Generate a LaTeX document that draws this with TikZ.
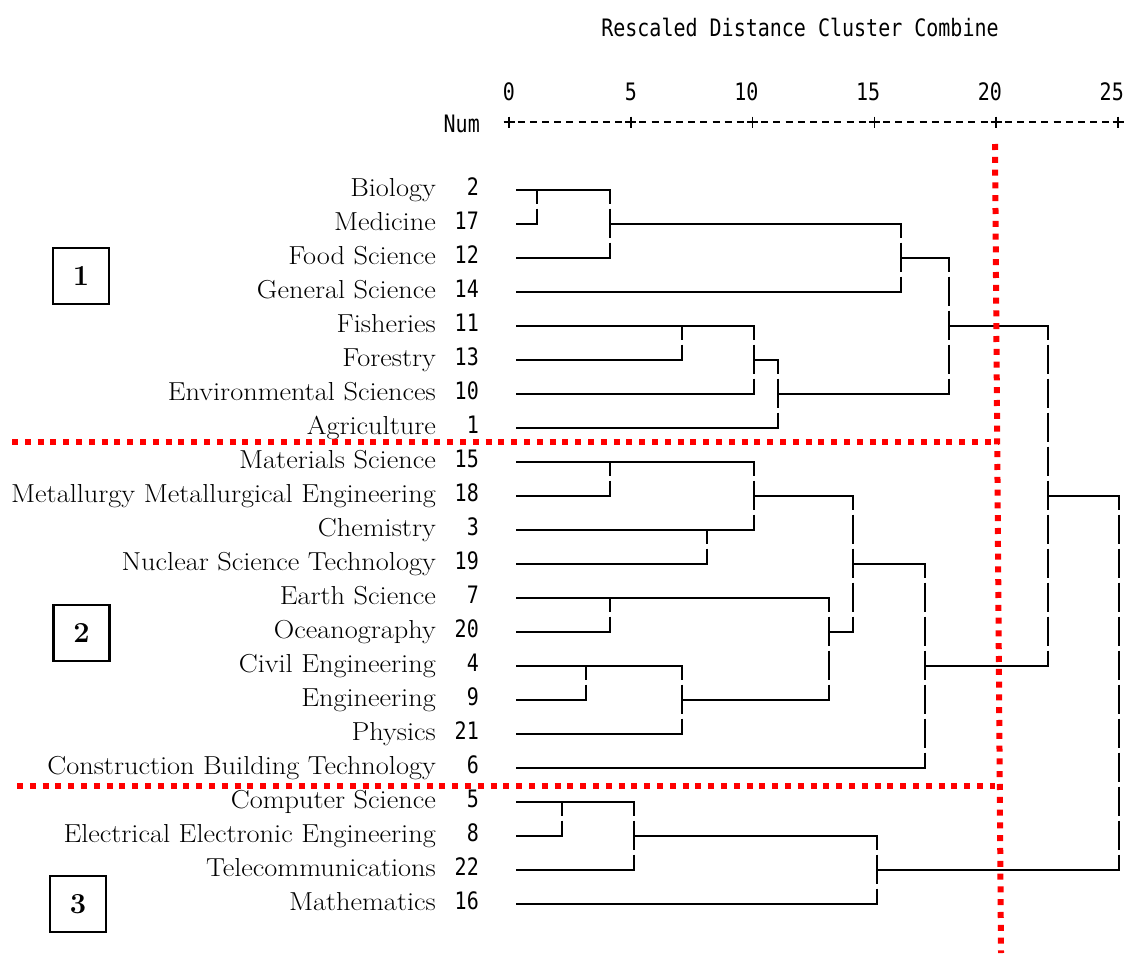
\documentclass[tikz,border=0pt]{standalone}
\usepackage{fontspec}
\usepackage{graphicx}
\newfontfamily\dmono{DejaVu Sans Mono}
\newcommand{\vs}[1]{\scalebox{1}[1.2]{#1}}
\newcommand{\hs}[1]{\scalebox{1.09}[1]{#1}}
\tikzset{
 lab/.style={font=\fontsize{26}{30}\selectfont, inner sep=0pt, anchor=base east},
 num/.style={font=\dmono\fontsize{20}{24}\selectfont, inner sep=0pt, anchor=base east},
 mono/.style={font=\dmono\fontsize{20}{24}\selectfont, inner sep=0pt},
 tree/.style={line width=1.8pt, line cap=rect},
 vbar/.style={line width=1.8pt, dash pattern=on 29.5pt off 4.5pt, dash phase=15.5pt},
 axisln/.style={line width=1.5pt},
 reddot/.style={red, line width=6pt, dash pattern=on 6pt off 6.8pt},
 grpbox/.style={draw, line width=2.4pt, minimum width=56pt, minimum height=56pt, font=\fontsize{29}{32}\selectfont\bfseries, inner sep=0pt},
}
\begin{document}
\begin{tikzpicture}[x=1pt,y=-1pt]
\fill[white] (0,0) rectangle (1124,953);
\useasboundingbox (0,0) rectangle (1124,953);

% title and axis
\node[mono] (title) at (800,27) {\vs{Rescaled Distance Cluster Combine}};
\node[mono, anchor=east] (numhdr) at (480,124) {\vs{Num}};
\node[mono] (a0) at (509,92) {\vs{0}};
\node[mono] (a5) at (630.8,92) {\vs{5}};
\node[mono, anchor=east] (a10) at (758.6,92) {\vs{10}};
\node[mono, anchor=east] (a15) at (880.4,92) {\vs{15}};
\node[mono, anchor=east] (a20) at (1002.2,92) {\vs{20}};
\node[mono, anchor=east] (a25) at (1124,92) {\vs{25}};
\foreach \k in {0,...,5}{
  \draw[axisln] ({509+121.8*\k-5.5},122) -- ++(11,0) ({509+121.8*\k},116.5) -- ++(0,11);
}
\foreach \k in {0,...,4}{
  \foreach \j in {1,...,9}{
    \draw[axisln] ({509+121.8*\k+12.18*\j-3.5},122) -- ++(7,0);
  }
}

% leaf labels and numbers
\foreach \i/\n/\t in {0/2/Biology, 1/17/Medicine, 2/12/Food Science, 3/14/General Science,
  4/11/Fisheries, 5/13/Forestry, 6/10/Environmental Sciences, 7/1/Agriculture,
  8/15/Materials Science, 9/18/Metallurgy Metallurgical Engineering, 10/3/Chemistry,
  11/19/Nuclear Science Technology, 12/7/Earth Science, 13/20/Oceanography,
  14/4/Civil Engineering, 15/9/Engineering, 16/21/Physics, 17/6/Construction Building Technology,
  18/5/Computer Science, 19/8/Electrical Electronic Engineering, 20/22/Telecommunications,
  21/16/Mathematics}{
  \node[lab] (t\i) at (436,{196+34*\i}) {\hs{\t}};
  \node[num] (n\i) at (479,{195+34*\i}) {\vs{\n}};
}

% cluster boxes
\node[grpbox] (g1) at (81,276) {1};
\node[grpbox] (g2) at (81.5,633) {2};
\node[grpbox] (g3) at (78,904) {3};

% dendrogram: horizontal lines
\draw[tree]
 (517,190)--(610,190) (517,224)--(537,224) (517,258)--(610,258) (517,292)--(901,292)
 (517,326)--(754,326) (517,360)--(682,360) (517,394)--(754,394) (517,428)--(778,428)
 (610,224)--(901,224) (901,258)--(949,258) (754,360)--(778,360) (778,394)--(949,394)
 (949,326)--(1048,326)
 (517,462)--(754,462) (517,496)--(610,496) (517,530)--(754,530) (517,564)--(707,564)
 (517,598)--(829,598) (517,632)--(610,632) (517,666)--(682,666) (517,700)--(586,700)
 (517,734)--(682,734) (517,768)--(925,768)
 (754,496)--(853,496) (682,700)--(829,700) (829,632)--(853,632) (853,564)--(925,564)
 (925,666)--(1048,666) (1048,496)--(1119,496)
 (517,802)--(634,802) (517,836)--(562,836) (517,870)--(634,870) (517,904)--(877,904)
 (634,836)--(877,836) (877,870)--(1119,870);

% dendrogram: vertical lines
\draw[vbar] (537,190)--(537,224);
\draw[vbar] (610,190)--(610,258);
\draw[vbar] (901,224)--(901,292);
\draw[vbar] (682,326)--(682,360);
\draw[vbar] (754,326)--(754,394);
\draw[vbar] (778,360)--(778,428);
\draw[vbar] (949,258)--(949,394);
\draw[vbar] (610,462)--(610,496);
\draw[vbar] (707,530)--(707,564);
\draw[vbar] (754,462)--(754,530);
\draw[vbar] (610,598)--(610,632);
\draw[vbar] (586,666)--(586,700);
\draw[vbar] (682,666)--(682,734);
\draw[vbar] (829,598)--(829,700);
\draw[vbar] (853,496)--(853,632);
\draw[vbar] (925,564)--(925,768);
\draw[vbar] (1048,326)--(1048,666);
\draw[vbar] (562,802)--(562,836);
\draw[vbar] (634,802)--(634,870);
\draw[vbar] (877,836)--(877,904);
\draw[vbar] (1119,496)--(1119,870);

% red dotted cut lines
\draw[reddot] (12,442)--(998,442);
\draw[reddot] (17,786)--(995,786);
\draw[reddot] (995,144)--(1001,953);
\end{tikzpicture}
\end{document}
